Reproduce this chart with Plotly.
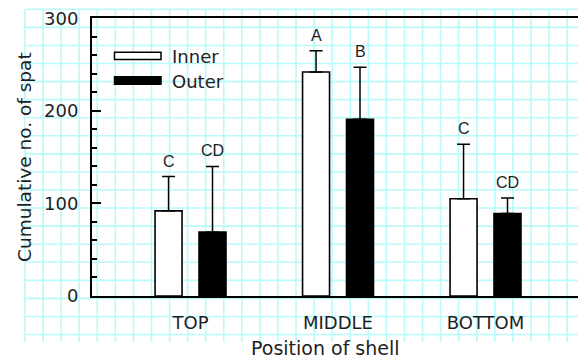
import numpy as np
import plotly.graph_objects as go

# Spat settlement by shell position
positions = ["TOP", "MIDDLE", "BOTTOM"]
series_names = ["Inner", "Outer"]
inner_mean = [92, 242, 105]
inner_err = [37, 23, 59]
outer_mean = [69, 191, 89]
outer_err = [71, 56, 17]
inner_letters = ["C", "A", "C"]
outer_letters = ["CD", "B", "CD"]
y_ticks = [0, 100, 200, 300]

W, H = 578, 358
FONT = "DejaVu Sans"
INK = "#1e1e1e"


def px(x):
    return x / W


def py(y):
    return 1 - y / H


x_idx = np.arange(len(positions))
bargap = 0.404
bargroupgap = 0.386
slot = (1 - bargap) / 2

fig = go.Figure()

fig.add_trace(go.Bar(
    x=x_idx, y=inner_mean, name=series_names[0],
    marker=dict(color="white", line=dict(color="black", width=1.6)),
    error_y=dict(type="data", array=inner_err, arrayminus=[0] * 3, symmetric=False,
                 color="black", thickness=1.5, width=6.5),
    showlegend=False,
))
fig.add_trace(go.Bar(
    x=x_idx, y=outer_mean, name=series_names[1],
    marker=dict(color="black", line=dict(color="black", width=1.6)),
    error_y=dict(type="data", array=outer_err, arrayminus=[0] * 3, symmetric=False,
                 color="black", thickness=1.5, width=6.5),
    showlegend=False,
))

annotations = []
# significance letters above each error bar
for i in range(len(positions)):
    for sign, m, e, lab in ((-1, inner_mean, inner_err, inner_letters),
                            (1, outer_mean, outer_err, outer_letters)):
        annotations.append(dict(
            x=x_idx[i] + sign * slot / 2, y=m[i] + e[i], xref="x", yref="y",
            text=lab[i], showarrow=False, yanchor="bottom", yshift=5,
            font=dict(family="Liberation Sans", size=16, color=INK),
        ))

# legend drawn by hand: long flat swatches with labels
shapes = []
legend_rows = [(series_names[0], "white", 52.3, 59.5, 56.5),
               (series_names[1], "black", 76.7, 84.3, 81)]
for name, fill, y0, y1, yt in legend_rows:
    shapes.append(dict(type="rect", xref="paper", yref="paper",
                       x0=px(114.5), x1=px(161), y0=py(y1), y1=py(y0),
                       fillcolor=fill, line=dict(color="black", width=1.5), layer="above"))
    annotations.append(dict(x=px(170), y=py(yt), xref="paper", yref="paper",
                            text=name, showarrow=False, xanchor="left", yanchor="middle",
                            font=dict(family=FONT, size=18, color=INK)))

# x-axis title placed as free text under the category labels
annotations.append(dict(x=px(325), y=py(348), xref="paper", yref="paper",
                        text="Position of shell", showarrow=False,
                        xanchor="center", yanchor="middle",
                        font=dict(family=FONT, size=19, color=INK)))

# graph-paper background
gx0, gx1, gy0, gy1, step = 25, W, 9.3, 342, 18.07
path = []
x = gx0
while x <= gx1 + 0.5:
    path.append(f"M{px(x):.5f},{py(gy0):.5f} L{px(x):.5f},{py(gy1):.5f}")
    x += step
y = gy0
while y <= gy1 + 0.5:
    path.append(f"M{px(gx0):.5f},{py(y):.5f} L{px(gx1):.5f},{py(y):.5f}")
    y += step
shapes.append(dict(type="path", xref="paper", yref="paper", path=" ".join(path),
                   line=dict(color="rgb(185,250,250)", width=1.6), layer="below"))

fig.update_layout(
    width=W, height=H,
    margin=dict(l=0, r=0, t=0, b=0),
    paper_bgcolor="white", plot_bgcolor="rgba(0,0,0,0)",
    barmode="group", bargap=bargap, bargroupgap=bargroupgap,
    font=dict(family=FONT, color=INK),
    shapes=shapes, annotations=annotations,
    xaxis=dict(
        domain=[px(92), 1.0], range=[-0.668, 2.627],
        tickvals=list(x_idx), ticktext=positions, ticks="",
        showline=True, linecolor="black", linewidth=2, mirror=True,
        showgrid=False, zeroline=False,
        tickfont=dict(family=FONT, size=18, color=INK), ticklabelstandoff=9,
        automargin=False,
    ),
    yaxis=dict(
        domain=[py(296), py(18.3)], range=[0, 300],
        tickvals=y_ticks, ticks="inside", ticklen=9, tickwidth=1.5, tickcolor="black",
        minor=dict(dtick=20, ticks="inside", ticklen=5, tickwidth=1.5, tickcolor="black"),
        showline=True, linecolor="black", linewidth=2, mirror=False,
        showgrid=False, zeroline=False,
        tickfont=dict(family=FONT, size=18, color=INK), ticklabelstandoff=8,
        title=dict(text="Cumulative no. of spat", font=dict(family=FONT, size=18.5, color=INK),
                   standoff=8),
        automargin=False,
    ),
)

fig.write_html("out.html")
